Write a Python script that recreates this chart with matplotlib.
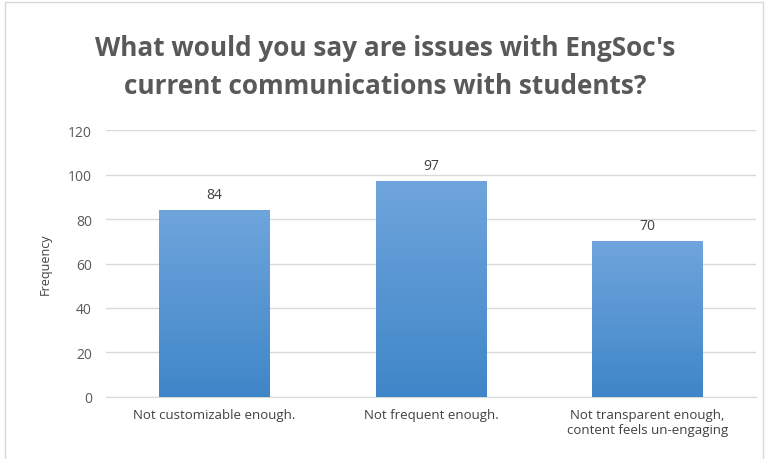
import matplotlib
matplotlib.use("Agg")
import matplotlib.pyplot as plt
import numpy as np
from matplotlib.patches import Rectangle

categories = ["Not customizable enough.", "Not frequent enough.",
              "Not transparent enough,\ncontent feels un-engaging"]
values = [84, 97, 70]
yticks = [0, 20, 40, 60, 80, 100, 120]

plt.rcParams['font.family'] = ['Open Sans', 'DejaVu Sans']

fig = plt.figure(figsize=(7.71, 4.6), dpi=100)
ax = fig.add_axes([0.1375, 0.135, 0.843, 0.580])

x = np.arange(len(categories))
bars = ax.bar(x, values, width=0.51, color='none', zorder=3)

# vertical gradient inside each bar
grad = np.linspace(0, 1, 256).reshape(-1, 1)
cmap = matplotlib.colors.LinearSegmentedColormap.from_list('g', ['#3F86C8', '#6FA5DC'])
for b in bars:
    bx, by = b.get_x(), b.get_y()
    w, h = b.get_width(), b.get_height()
    im = ax.imshow(grad, cmap=cmap, aspect='auto', origin='lower',
                   extent=[bx, bx + w, by, by + h], zorder=3)
    im.set_clip_path(b)
    ax.text(bx + w / 2, h + 3.5, str(int(round(h))),
            ha='center', va='bottom', fontsize=10, color='#404040')

ax.set_xlim(-0.5, len(categories) - 0.5)
ax.set_ylim(0, 120)
ax.set_yticks(yticks)
ax.set_xticks(x)
ax.set_xticklabels(categories, fontsize=9.5, color='#404040')
ax.tick_params(axis='y', labelsize=10, colors='#595959', length=0, pad=10)
ax.tick_params(axis='x', length=0, pad=8)
ax.yaxis.grid(True, color='#D9D9D9', linewidth=1)
ax.set_axisbelow(True)
for s in ['top', 'right', 'left']:
    ax.spines[s].set_visible(False)
ax.spines['bottom'].set_color('#D9D9D9')
ax.set_ylabel("Frequency", fontsize=9, color='#404040', labelpad=12)

fig.suptitle("What would you say are issues with EngSoc's\ncurrent communications with students?",
             x=0.5, y=0.925, fontsize=18.8, fontweight='bold', color='#595959',
             linespacing=1.55)

fig.patches.append(Rectangle((0.006, -0.01), 0.983, 1.003, transform=fig.transFigure,
                             fill=False, edgecolor='#D9D9D9', linewidth=1))

fig.savefig("out.png", dpi=100)
